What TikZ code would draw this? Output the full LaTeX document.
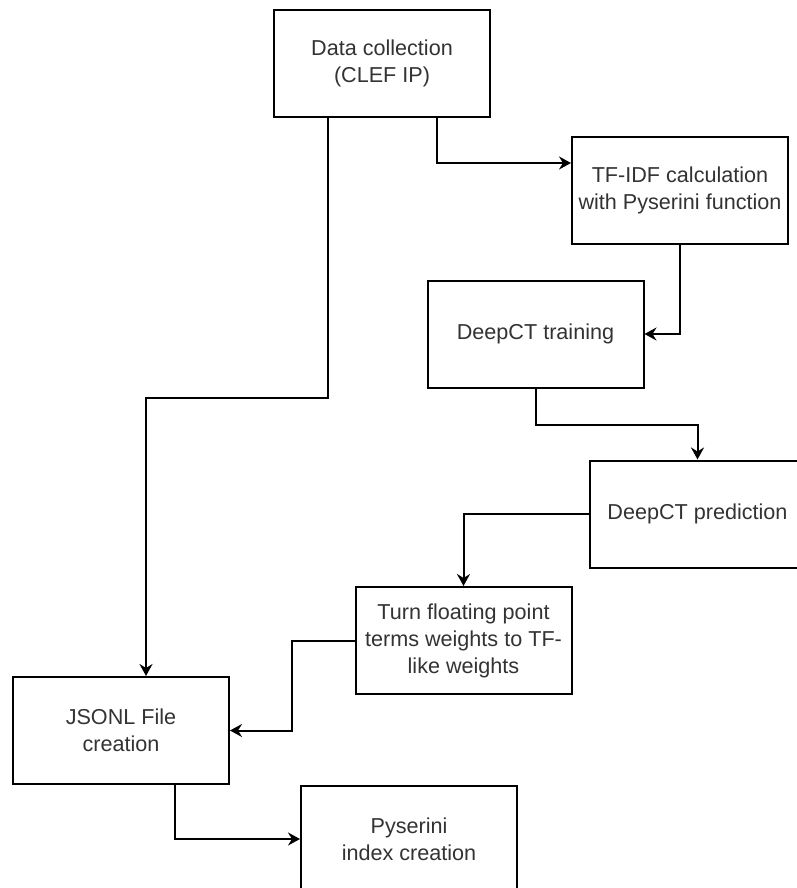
\documentclass[tikz,border=0pt]{standalone}
\usepackage{fontspec}
\setmainfont{Liberation Sans}
\usetikzlibrary{arrows.meta}
\definecolor{txt}{HTML}{333333}
\begin{document}
\begin{tikzpicture}[x=1pt,y=-1pt,
  box/.style={draw=black, line width=2pt, fill=white, minimum width=216pt, minimum height=107pt,
    inner sep=0pt, align=center, text=txt, font=\fontsize{21.6}{27}\selectfont},
  conn/.style={draw=black, line width=2pt, -{Stealth[length=12pt,width=13pt,inset=4pt]}}]
\useasboundingbox (0,0) rectangle (797,888);
\clip (0,0) rectangle (797,888);
\fill[white] (0,0) rectangle (797,888);
\node[box] (data)  at (382,63.5)  {Data collection\\(CLEF IP)};
\node[box] (tfidf) at (680,190)   {TF-IDF calculation\\with Pyserini function};
\node[box] (train) at (535.5,334) {DeepCT training};
\node[box] (pred)  at (697.5,514) {DeepCT prediction};
\node[box] (turn)  at (463.5,640.5) {Turn floating point\\terms weights to TF-\\like weights};
\node[box] (jsonl) at (121,730.5) {JSONL File\\creation};
\node[box] (pys)   at (409,839)   {Pyserini\\index creation};
\draw[conn] ([xshift=55pt]data.south) |- ([yshift=27pt]tfidf.west);
\draw[conn] ([xshift=-54pt]data.south) -- ++(0,280) -| ([xshift=25pt]jsonl.north);
\draw[conn] (tfidf.south) |- (train.east);
\draw[conn] (train.south) -- ++(0,36) -| (pred.north);
\draw[conn] (pred.west) -| (turn.north);
\draw[conn] (turn.west) -- ++(-63,0) |- (jsonl.east);
\draw[conn] ([xshift=54pt]jsonl.south) |- (pys.west);
\end{tikzpicture}
\end{document}
